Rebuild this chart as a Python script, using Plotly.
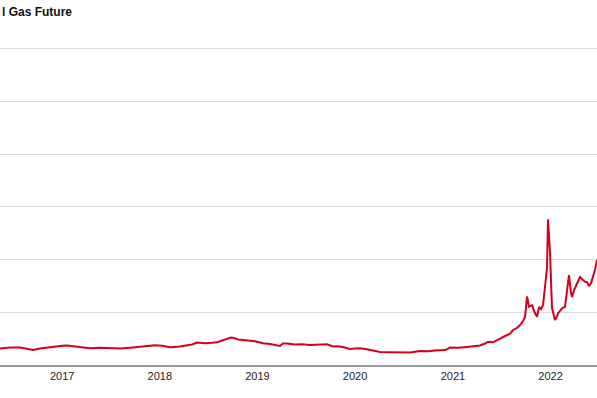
import pandas as pd
import plotly.graph_objects as go

# Decimal-year timestamps
years = [
    2016.365, 2016.468, 2016.570, 2016.652, 2016.703, 2016.775, 2016.877, 2016.949,
    2017.000, 2017.051, 2017.133, 2017.184, 2017.287, 2017.389, 2017.491, 2017.594,
    2017.696, 2017.798, 2017.901, 2017.952, 2018.024, 2018.105, 2018.208, 2018.279,
    2018.331, 2018.382, 2018.412, 2018.464, 2018.535, 2018.586, 2018.638, 2018.699,
    2018.730, 2018.760, 2018.801, 2018.853, 2018.924, 2018.975, 2019.027, 2019.057,
    2019.129, 2019.190, 2019.231, 2019.262, 2019.303, 2019.385, 2019.457, 2019.538,
    2019.620, 2019.712, 2019.774, 2019.825, 2019.897, 2019.948, 2019.999, 2020.050,
    2020.122, 2020.173, 2020.255, 2020.357, 2020.460, 2020.562, 2020.664, 2020.746,
    2020.818, 2020.920, 2020.971, 2021.053, 2021.145, 2021.217, 2021.278, 2021.330,
    2021.360, 2021.411, 2021.452, 2021.483, 2021.534, 2021.585, 2021.616, 2021.657,
    2021.688, 2021.718, 2021.739, 2021.759, 2021.780, 2021.811, 2021.841, 2021.862,
    2021.882, 2021.903, 2021.923, 2021.944, 2021.964, 2021.974, 2021.995, 2022.015,
    2022.036, 2022.046, 2022.067, 2022.077, 2022.097, 2022.118, 2022.148, 2022.169,
    2022.189, 2022.210, 2022.220, 2022.241, 2022.271, 2022.302, 2022.333, 2022.353,
    2022.374, 2022.394, 2022.415, 2022.435, 2022.455, 2022.476,
]

prices = [
    15.6, 16.6, 16.6, 15.2, 14.2, 15.6, 17.1, 17.5,
    18.3, 18.5, 17.5, 17.1, 15.8, 16.3, 15.9, 15.6,
    16.4, 17.1, 18.3, 18.7, 18.2, 16.8, 17.5, 18.7,
    19.4, 21.3, 20.8, 20.6, 21.0, 21.5, 23.2, 25.3,
    26.1, 25.6, 24.2, 23.7, 23.4, 22.5, 21.3, 20.6,
    19.9, 18.5, 18.0, 20.4, 20.4, 19.4, 19.6, 18.9,
    19.1, 19.6, 17.5, 17.8, 16.6, 15.2, 15.6, 15.8,
    14.9, 14.0, 12.3, 12.0, 11.6, 11.8, 13.3, 13.0,
    13.7, 14.2, 16.6, 16.3, 17.1, 17.8, 18.5, 20.4,
    22.1, 21.5, 23.2, 25.1, 27.5, 29.8, 33.2, 35.1,
    37.9, 41.7, 45.8, 64.9, 55.2, 56.8, 49.0, 45.8,
    54.9, 53.1, 56.8, 78.6, 91.9, 138.0, 106.1, 54.0,
    44.5, 42.6, 46.4, 49.0, 51.2, 53.7, 55.2, 74.2,
    85.3, 67.9, 64.4, 71.0, 77.7, 83.4, 80.5, 78.9,
    78.6, 74.8, 77.7, 83.6, 90.0, 99.5,
]

year_ticks = [2017, 2018, 2019, 2020, 2021, 2022]
title_text = "l Gas Future"


def to_date(y):
    yi = int(y)
    start = pd.Timestamp(year=yi, month=1, day=1)
    end = pd.Timestamp(year=yi + 1, month=1, day=1)
    return start + (end - start) * (y - yi)


dates = [to_date(y) for y in years]
tickvals = [pd.Timestamp(year=y, month=1, day=1) for y in year_ticks]

fig = go.Figure()
fig.add_trace(go.Scatter(
    x=dates, y=prices, mode="lines",
    line=dict(color="#d6001c", width=2),
    hoverinfo="skip", showlegend=False,
))

fig.update_layout(
    width=597, height=398,
    margin=dict(l=0, r=0, t=38, b=33),
    paper_bgcolor="white", plot_bgcolor="white",
    font=dict(family="Liberation Sans Narrow, Arial Narrow, sans-serif", color="#222"),
    xaxis=dict(
        type="date",
        range=[to_date(years[0]), to_date(years[-1])],
        tickvals=tickvals,
        ticktext=[str(y) for y in year_ticks],
        showgrid=False, showline=True, linecolor="#9a9a9a", linewidth=1.5,
        ticks="", tickfont=dict(size=11, color="#222"),
        zeroline=False,
    ),
    yaxis=dict(
        range=[0, 310], dtick=50, tick0=0,
        showgrid=True, gridcolor="#dddddd", gridwidth=1,
        showticklabels=False, zeroline=False, showline=False,
    ),
    annotations=[dict(
        text="<b>" + title_text + "</b>", xref="paper", yref="paper",
        x=0, y=1.08, xanchor="left", yanchor="middle", showarrow=False,
        font=dict(family="Liberation Sans Narrow, Arial Narrow, sans-serif", size=12, color="#111"),
    )],
)

fig.write_html("out.html")
